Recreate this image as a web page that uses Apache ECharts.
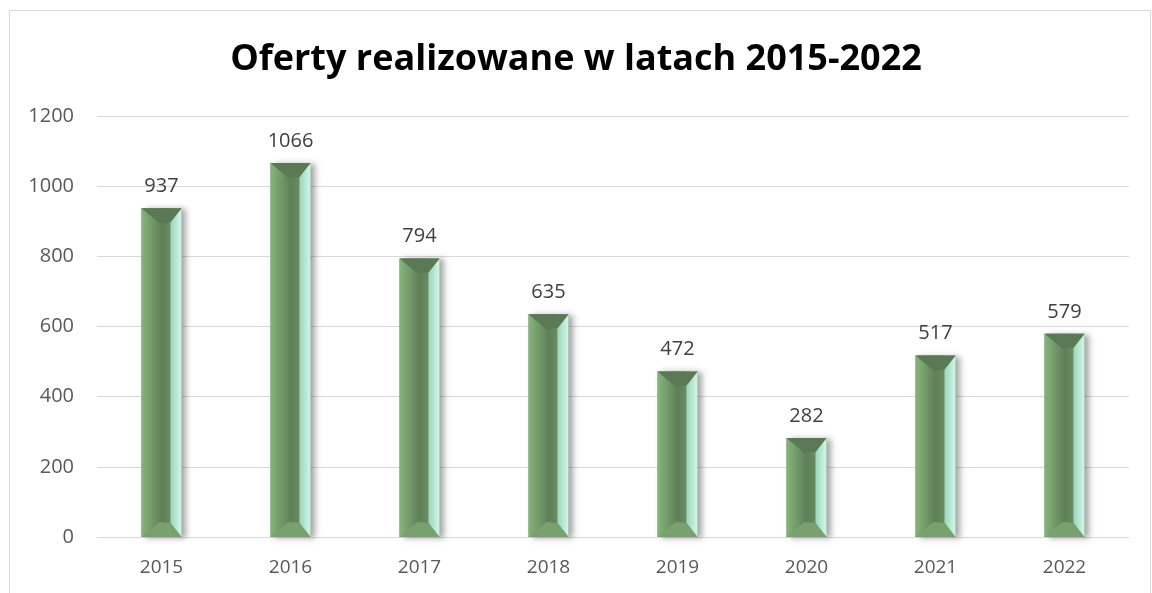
<!DOCTYPE html>
<html>
<head>
<meta charset="utf-8">
<script src="https://cdn.jsdelivr.net/npm/echarts@6/dist/echarts.min.js"></script>
<style>
  html, body { margin: 0; padding: 0; background: #fff; }
  #chart { width: 1152px; height: 593px; }
</style>
</head>
<body>
<div id="chart"></div>
<script>
var years = ['2015', '2016', '2017', '2018', '2019', '2020', '2021', '2022'];
var offers = [937, 1066, 794, 635, 472, 282, 517, 579];
var yTicks = { min: 0, max: 1200, interval: 200 };

var chart = echarts.init(document.getElementById('chart'));

// bevelled bar like the Excel one
function renderBevel(params, api) {
    var top = api.coord([api.value(0), api.value(1)]);
    var base = api.coord([api.value(0), 0]);
    var w = 40;
    var L = top[0] - w / 2, R = top[0] + w / 2, T = top[1], B = base[1];
    var d = Math.min(14, (B - T) / 2);
    var rw = 11;
    return {
        type: 'group',
        children: [
            { type: 'rect', shape: { x: L, y: T, width: w, height: B - T },
              style: { fill: '#6f9866', shadowBlur: 6, shadowOffsetX: 4, shadowOffsetY: 1, shadowColor: 'rgba(0,0,0,0.35)' } },
            { type: 'rect', shape: { x: L, y: T, width: w - rw, height: B - T },
              style: { fill: new echarts.graphic.LinearGradient(0, 0, 1, 0, [
                  { offset: 0, color: '#86b47b' }, { offset: 0.7, color: '#5e7f57' }, { offset: 1, color: '#6a8c62' }]) } },
            { type: 'polygon', shape: { points: [[R - rw, T + d], [R, T], [R, B], [R - rw, B - d]] },
              style: { fill: new echarts.graphic.LinearGradient(0, 0, 1, 0, [
                  { offset: 0, color: '#9bd5bc' }, { offset: 1, color: '#d3f6ea' }]) } },
            { type: 'polygon', shape: { points: [[L, T], [R, T], [R - rw, T + d], [L + 0.45 * w, T + d + 1]] },
              style: { fill: '#5c7955' } },
            { type: 'polygon', shape: { points: [[L, B], [R, B], [R - rw, B - d], [L + 0.45 * w, B - d - 1]] },
              style: { fill: '#79a16f' } }
        ]
    };
}

var option = {
    backgroundColor: '#fff',
    animation: false,
    title: {
        text: 'Oferty realizowane w latach 2015-2022',
        left: 'center',
        top: 37,
        textStyle: { fontFamily: 'Open Sans', fontWeight: 'bold', fontSize: 36, color: '#000' }
    },
    graphic: [{
        type: 'rect', silent: true, z: -1,
        shape: { x: 9.5, y: 10.5, width: 1141, height: 600 },
        style: { fill: 'none', stroke: '#d9d9d9', lineWidth: 1 }
    }],
    grid: { left: 97, right: 23, top: 116, bottom: 56 },
    xAxis: {
        type: 'category',
        data: years,
        axisLine: { lineStyle: { color: '#d9d9d9', width: 1 } },
        axisTick: { show: false },
        axisLabel: { color: '#595959', fontSize: 19, fontFamily: 'Open Sans', margin: 21 }
    },
    yAxis: {
        type: 'value',
        min: yTicks.min, max: yTicks.max, interval: yTicks.interval,
        axisLine: { show: false },
        axisTick: { show: false },
        splitLine: { lineStyle: { color: '#d9d9d9', width: 1 } },
        axisLabel: { color: '#595959', fontSize: 20, fontFamily: 'Open Sans', margin: 23,
                     formatter: function (v) { return String(v); } }
    },
    series: [{
        type: 'bar',
        data: offers,
        barWidth: 40,
        itemStyle: { color: 'rgba(0,0,0,0)' },
        label: { show: true, position: 'top', distance: 12, color: '#404040', fontSize: 20, fontFamily: 'Open Sans' },
        z: 3
    }, {
        type: 'custom',
        data: offers.map(function (v, i) { return [i, v]; }),
        renderItem: renderBevel,
        encode: { x: 0, y: 1 },
        z: 2
    }]
};

chart.setOption(option);
</script>
</body>
</html>
